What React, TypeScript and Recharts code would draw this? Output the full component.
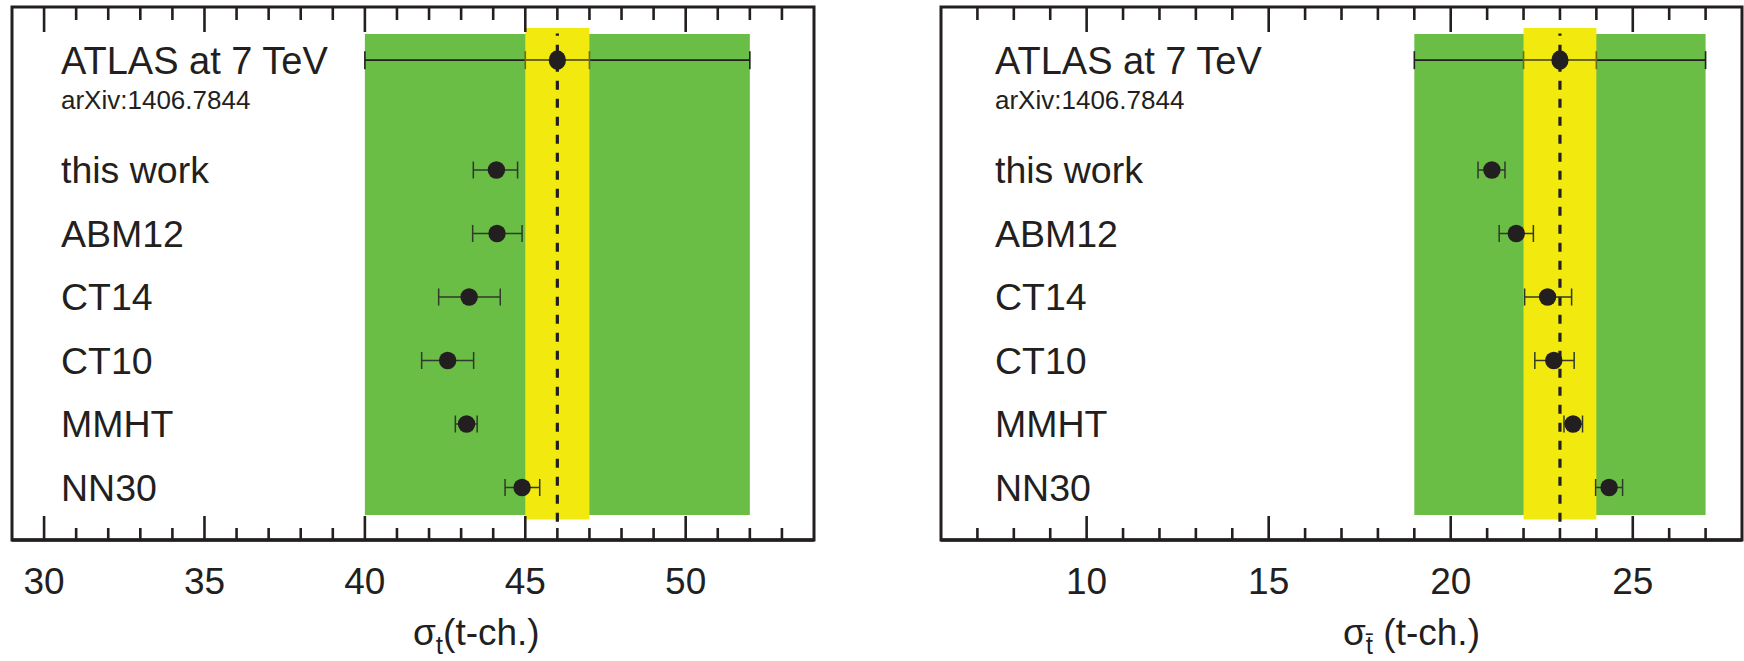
import React from 'react'
import { ComposedChart, Scatter, XAxis, YAxis, ReferenceArea, ReferenceLine, ErrorBar } from 'recharts'

const FONT = '"Liberation Sans", Arial, Helvetica, sans-serif'
const INK = '#231f20'
const GREEN = '#6abd45'
const YELLOW = '#f2e90f'

// rows (bottom = 1)
const MODELS = ['this work', 'ABM12', 'CT14', 'CT10', 'MMHT', 'NN30']
const MODEL_ROWS = [6, 5, 4, 3, 2, 1]
const ATLAS_ROW = 7.73
const ARXIV_ROW = 7.1
const ATLAS_LABEL = 'ATLAS at 7 TeV'
const ARXIV_LABEL = 'arXiv:1406.7844'

// sigma_t (top quark), pb
const T_CENTRAL = [44.1, 44.12, 43.25, 42.58, 43.17, 44.9]
const T_LOW = [43.38, 43.36, 42.3, 41.77, 42.82, 44.37]
const T_HIGH = [44.76, 44.9, 44.22, 43.39, 43.5, 45.45]
const T_ATLAS = 46
const T_ATLAS_STAT = [45, 47]
const T_ATLAS_TOTAL = [40, 52]
const T_DOMAIN: [number, number] = [29, 54]
const T_MAJOR = [30, 35, 40, 45, 50]

// sigma_tbar (anti-top), pb
const TBAR_CENTRAL = [21.13, 21.8, 22.66, 22.83, 23.36, 24.35]
const TBAR_LOW = [20.75, 21.33, 22.03, 22.31, 23.11, 23.98]
const TBAR_HIGH = [21.49, 22.27, 23.32, 23.39, 23.62, 24.72]
const TBAR_ATLAS = 23
const TBAR_ATLAS_STAT = [22, 24]
const TBAR_ATLAS_TOTAL = [19, 27]
const TBAR_DOMAIN: [number, number] = [6, 28]
const TBAR_MAJOR = [10, 15, 20, 25]

const Y_DOMAIN: [number, number] = [0.173, 8.567]
const GREEN_Y = [0.567, 8.14]
const YELLOW_Y = [0.496, 8.236]
const DASH_Y = [0.46, 8.15]

const range = (a: number, b: number) => {
    const out: number[] = []
    for (let v = a; v <= b; v++) out.push(v)
    return out
}

// one tick draws both the bottom mark (+label) and the mirrored mark on the top frame
function FrameTick({ x, y, payload, majors, plotH }: any) {
    const v = payload.value
    const major = majors.includes(v)
    const top = y - plotH
    return (
        <g>
            <line x1={x} x2={x} y1={y} y2={y - (major ? 24 : 12)} stroke={INK} strokeWidth={2.6} />
            <line x1={x} x2={x} y1={top} y2={top + (major ? 25 : 13)} stroke={INK} strokeWidth={2.6} />
            {major && (
                <text x={x} y={y + 54} textAnchor="middle" fontSize={37} fill={INK} fontFamily={FONT}>
                    {v}
                </text>
            )}
        </g>
    )
}

function RowLabel({ y, payload, labelX }: any) {
    const v = payload.value
    let text = ''
    let size = 37.5
    if (v === ATLAS_ROW) {
        text = ATLAS_LABEL
        size = 38
    } else if (v === ARXIV_ROW) {
        text = ARXIV_LABEL
        size = 26
    } else {
        text = MODELS[MODEL_ROWS.indexOf(v)]
    }
    return (
        <text x={labelX} y={y + size * 0.358} fontSize={size} fill={INK} fontFamily={FONT}>
            {text}
        </text>
    )
}

function AxisTitle({ x0, sub }: any) {
    return (
        <text x={x0} y={645} fontSize={37} fill={INK} fontFamily={FONT}>
            σ
            <tspan fontSize={26} dy={9}>
                {sub}
            </tspan>
            <tspan dy={-9}>{sub === 't' ? '(t-ch.)' : ' (t-ch.)'}</tspan>
        </text>
    )
}

const Dot = (p: any) => <circle cx={p.cx} cy={p.cy} r={8.7} fill={INK} />
const AtlasDot = (p: any) => <ellipse cx={p.cx} cy={p.cy} rx={8.6} ry={9.8} fill={INK} />

interface PanelProps {
    width: number
    margin: { top: number; bottom: number; left: number; right: number }
    domain: [number, number]
    majors: number[]
    central: number[]
    low: number[]
    high: number[]
    atlas: number
    stat: number[]
    total: number[]
    labelX: number
    titleX: number
    sub: string
}

const CHART_H = 661
// bottom axis strip and the hairline y axis take space out of the plot offset
const BOTTOM_AXIS_H = 60

function Panel(props: PanelProps) {
    const { width, margin, domain, majors, central, low, high, atlas, stat, total, labelX, titleX, sub } = props
    const points = central.map((c, i) => ({ x: c, y: MODEL_ROWS[i], err: [c - low[i], high[i] - c] }))
    const atlasPoint = [{ x: atlas, y: ATLAS_ROW, tot: [atlas - total[0], total[1] - atlas], st: [atlas - stat[0], stat[1] - atlas] }]
    const ticks = range(Math.ceil(domain[0]) + 1, Math.floor(domain[1]) - 1)
    const m = { top: margin.top, bottom: margin.bottom - BOTTOM_AXIS_H, left: margin.left - 1, right: margin.right }
    const plotH = CHART_H - margin.top - margin.bottom

    return (
        <ComposedChart width={width} height={CHART_H} margin={m}>
            <XAxis
                type="number"
                dataKey="x"
                domain={domain}
                ticks={ticks}
                interval={0}
                height={BOTTOM_AXIS_H}
                tickSize={0}
                tickMargin={0}
                tickLine={false}
                axisLine={{ stroke: INK, strokeWidth: 3.5 }}
                tick={<FrameTick majors={majors} plotH={plotH} />}
                label={<AxisTitle x0={titleX} sub={sub} />}
                allowDataOverflow
            />
            <YAxis
                type="number"
                dataKey="y"
                domain={Y_DOMAIN}
                ticks={[ATLAS_ROW, ARXIV_ROW, ...MODEL_ROWS]}
                interval={0}
                width={1}
                tickSize={0}
                tickMargin={0}
                axisLine={false}
                tickLine={false}
                tick={<RowLabel labelX={labelX} />}
                allowDataOverflow
            />
            <ReferenceArea x1={total[0]} x2={total[1]} y1={GREEN_Y[0]} y2={GREEN_Y[1]} fill={GREEN} fillOpacity={1} stroke="none" />
            <ReferenceArea x1={stat[0]} x2={stat[1]} y1={YELLOW_Y[0]} y2={YELLOW_Y[1]} fill={YELLOW} fillOpacity={1} stroke="none" ifOverflow="visible" />
            <ReferenceLine
                segment={[
                    { x: atlas, y: DASH_Y[0] },
                    { x: atlas, y: DASH_Y[1] },
                ]}
                stroke={INK}
                strokeWidth={3.2}
                strokeDasharray="9 9"
            />
            <ReferenceArea x1={domain[0]} x2={domain[1]} y1={Y_DOMAIN[0]} y2={Y_DOMAIN[1]} fill="none" stroke={INK} strokeWidth={3} />
            <Scatter data={atlasPoint} dataKey="y" shape={AtlasDot} isAnimationActive={false}>
                <ErrorBar dataKey="tot" direction="x" width={9} stroke={INK} strokeWidth={1.6} isAnimationActive={false} />
                <ErrorBar dataKey="st" direction="x" width={9} stroke="#6d6a1c" strokeWidth={1.6} isAnimationActive={false} />
            </Scatter>
            <Scatter data={points} dataKey="y" shape={Dot} isAnimationActive={false}>
                <ErrorBar dataKey="err" direction="x" width={8.5} stroke="#2f3a2c" strokeWidth={1.5} isAnimationActive={false} />
            </Scatter>
        </ComposedChart>
    )
}

export default function App() {
    return (
        <div style={{ position: 'relative', width: 1744, height: 661, background: '#fff', overflow: 'hidden' }}>
            <style>{'body{margin:0}'}</style>
            <div style={{ position: 'absolute', left: 0, top: 0 }}>
                <Panel
                    width={870}
                    margin={{ top: 7, bottom: 121, left: 12, right: 56 }}
                    domain={T_DOMAIN}
                    majors={T_MAJOR}
                    central={T_CENTRAL}
                    low={T_LOW}
                    high={T_HIGH}
                    atlas={T_ATLAS}
                    stat={T_ATLAS_STAT}
                    total={T_ATLAS_TOTAL}
                    labelX={61}
                    titleX={413}
                    sub="t"
                />
            </div>
            <div style={{ position: 'absolute', left: 870, top: 0 }}>
                <Panel
                    width={874}
                    margin={{ top: 7, bottom: 121, left: 71, right: 2 }}
                    domain={TBAR_DOMAIN}
                    majors={TBAR_MAJOR}
                    central={TBAR_CENTRAL}
                    low={TBAR_LOW}
                    high={TBAR_HIGH}
                    atlas={TBAR_ATLAS}
                    stat={TBAR_ATLAS_STAT}
                    total={TBAR_ATLAS_TOTAL}
                    labelX={125}
                    titleX={473}
                    sub={'t\u0304'}
                />
            </div>
        </div>
    )
}
